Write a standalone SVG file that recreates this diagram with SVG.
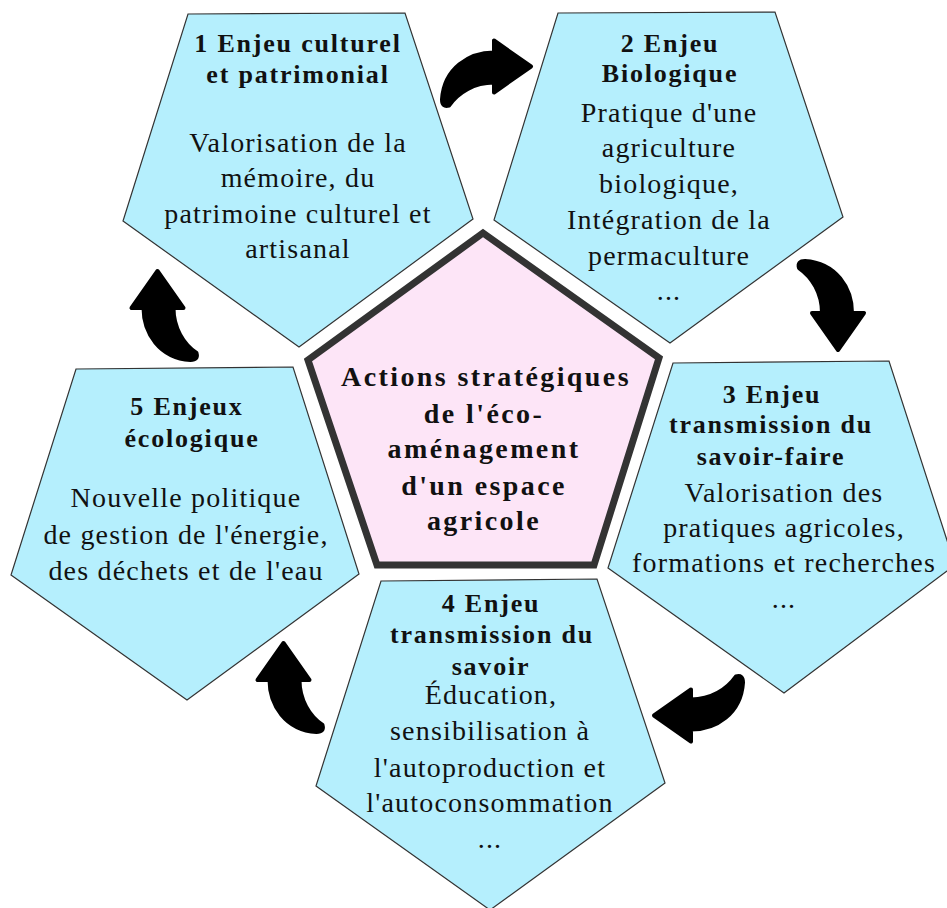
<svg xmlns="http://www.w3.org/2000/svg" width="947" height="908" viewBox="0 0 947 908">
<style>
.pent{fill:#b5effd;stroke:#333;stroke-width:1.2;stroke-linejoin:miter}
.center{fill:#fde5f7;stroke:#333;stroke-width:7;stroke-linejoin:miter}
text{font-family:'Liberation Serif','Times New Roman',serif;fill:#111;text-anchor:middle}
.b{font-weight:bold;font-size:26px;letter-spacing:1.8px}
.r{font-size:28px;letter-spacing:1.2px}
.cb{font-weight:bold;font-size:28px;letter-spacing:2.4px}
.arrow{fill:#000;stroke:#000;stroke-width:4;stroke-linejoin:round}
</style>
<defs>
<path id="arr" d="M 0,-14 C -25,-14 -50,2 -52,33 Q -52,41 -45,39 C -36,26 -20,16 0,16 L 0,26 L 37,0 L 0,-26 Z"/>
</defs>
<rect width="947" height="908" fill="#fff"/>
<g id="connectors">
<use href="#arr" class="arrow" transform="translate(494,66.5)"/>
<use href="#arr" class="arrow" transform="translate(838,313) rotate(90)"/>
<use href="#arr" class="arrow" transform="translate(691,715.5) rotate(180)"/>
<use href="#arr" class="arrow" transform="translate(283.5,680) rotate(-90)"/>
<use href="#arr" class="arrow" transform="translate(157.5,308) rotate(-90)"/>
</g>
<g id="node1">
<polygon class="pent" points="188,14 405,13 473,219 299,347 123,221"/>
<text class="b" x="298" y="52">1 Enjeu culturel</text>
<text class="b" x="298" y="83">et patrimonial</text>
<text class="r" x="298" y="152">Valorisation de la</text>
<text class="r" x="298" y="187">mémoire, du</text>
<text class="r" x="298" y="223">patrimoine culturel et</text>
<text class="r" x="298" y="258">artisanal</text>
</g>
<g id="node2">
<polygon class="pent" points="558,13 775,12 843,217 670,343 494,220"/>
<text class="b" x="670" y="52">2 Enjeu</text>
<text class="b" x="670" y="82">Biologique</text>
<text class="r" x="669" y="122">Pratique d'une</text>
<text class="r" x="669" y="157">agriculture</text>
<text class="r" x="669" y="193">biologique,</text>
<text class="r" x="669" y="229">Intégration de la</text>
<text class="r" x="669" y="265">permaculture</text>
<text class="r" x="669" y="300">...</text>
</g>
<g id="node3">
<polygon class="pent" points="673,363 889,361 955,565 784,693 608,568"/>
<text class="b" x="772" y="403">3 Enjeu</text>
<text class="b" x="771" y="433">transmission du</text>
<text class="b" x="771" y="465">savoir-faire</text>
<text class="r" x="784" y="502">Valorisation des</text>
<text class="r" x="784" y="537">pratiques agricoles,</text>
<text class="r" x="784" y="572">formations et recherches</text>
<text class="r" x="784" y="608">...</text>
</g>
<g id="node4">
<polygon class="pent" points="381,581 597,579 665,783 490,910 316,786"/>
<text class="b" x="491" y="612">4 Enjeu</text>
<text class="b" x="492" y="643">transmission du</text>
<text class="b" x="491" y="675">savoir</text>
<text class="r" x="491" y="704">Éducation,</text>
<text class="r" x="490" y="740">sensibilisation à</text>
<text class="r" x="490" y="777">l'autoproduction et</text>
<text class="r" x="490" y="812">l'autoconsommation</text>
<text class="r" x="490" y="848">...</text>
</g>
<g id="node5">
<polygon class="pent" points="76,369 293,367 359,574 187,700 11,575"/>
<text class="b" x="187" y="415">5 Enjeux</text>
<text class="b" x="192" y="447">écologique</text>
<text class="r" x="186" y="507">Nouvelle politique</text>
<text class="r" x="186" y="544">de gestion de l'énergie,</text>
<text class="r" x="186" y="580">des déchets et de l'eau</text>
</g>
<g id="center">
<polygon class="center" points="483,233 659,358 594,565 377,565 308,360"/>
<text class="cb" x="486" y="386">Actions stratégiques</text>
<text class="cb" x="484" y="423">de l'éco-</text>
<text class="cb" x="484" y="458">aménagement</text>
<text class="cb" x="484" y="495">d'un espace</text>
<text class="cb" x="484" y="530">agricole</text>
</g>
</svg>
